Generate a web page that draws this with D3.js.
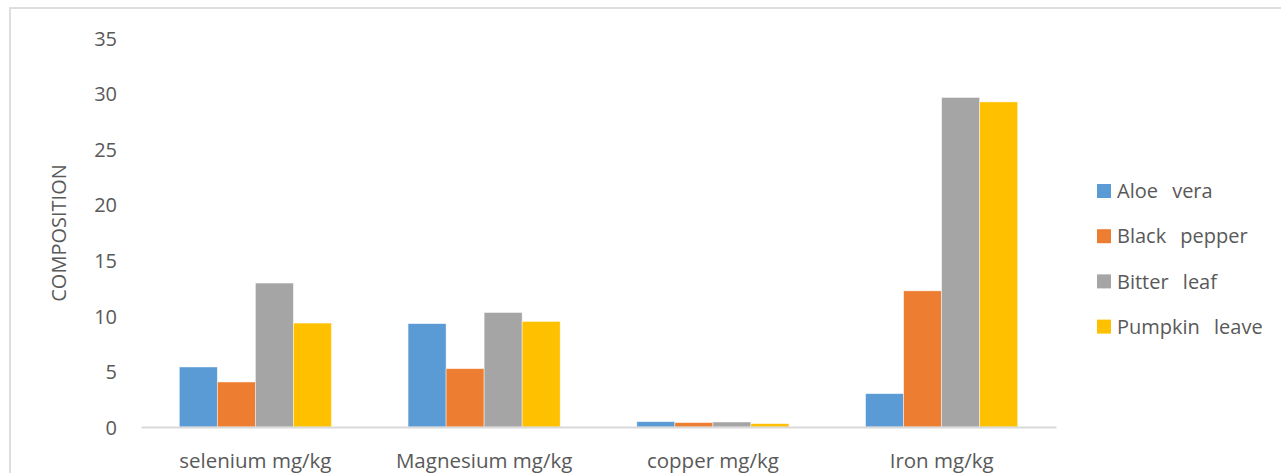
<!DOCTYPE html>
<html>
<head>
<meta charset="utf-8">
<script src="https://cdn.jsdelivr.net/npm/d3@7"></script>
<style>
  html, body { margin: 0; padding: 0; background: #fff; }
  svg { display: block; }
  text { font-family: "Open Sans", "Noto Sans", sans-serif; fill: #595959; }
</style>
</head>
<body>
<svg id="chart" width="1281" height="473"></svg>
<script>
// Mineral composition per sample
const categories = ["selenium mg/kg", "Magnesium mg/kg", "copper mg/kg", "Iron mg/kg"];
const seriesNames = ["Aloe vera", "Black pepper", "Bitter leaf", "Pumpkin leave"];
const aloeVera     = [5.4, 9.3, 0.48, 3.0];
const blackPepper  = [4.05, 5.25, 0.4, 12.25];
const bitterLeaf   = [12.95, 10.3, 0.45, 29.65];
const pumpkinLeave = [9.35, 9.5, 0.3, 29.25];
const yTicks = [0, 5, 10, 15, 20, 25, 30, 35];
const colors = ["#5b9bd5", "#ed7d31", "#a5a5a5", "#ffc000"];

const seriesValues = [aloeVera, blackPepper, bitterLeaf, pumpkinLeave];

const svg = d3.select("#chart");

// chart area frame
svg.append("rect")
  .attr("x", 10).attr("y", 8)
  .attr("width", 1300).attr("height", 500)
  .attr("fill", "none")
  .attr("stroke", "#dedede")
  .attr("stroke-width", 2);

const plot = { left: 141, right: 1056, top: 38, bottom: 427 };

const y = d3.scaleLinear().domain([0, 35]).range([plot.bottom, plot.top]);

const x0 = d3.scaleBand()
  .domain(categories)
  .range([plot.left, plot.right])
  .paddingInner(0.335)
  .paddingOuter(0.1675);

const x1 = d3.scaleBand()
  .domain(seriesNames)
  .range([0, x0.bandwidth()])
  .padding(0);

// y-axis tick labels
const yAxis = d3.axisLeft(y).tickValues(yTicks).tickSize(0).tickPadding(0);
const gy = svg.append("g")
  .attr("transform", `translate(${plot.left - 24},0)`)
  .call(yAxis);
gy.select(".domain").remove();
gy.selectAll("text")
  .style("font-size", "20px")
  .style("font-family", "'Open Sans', sans-serif")
  .attr("fill", "#595959")
  .attr("dy", "0.36em");

// bars
const groups = svg.append("g")
  .selectAll("g")
  .data(categories)
  .join("g")
  .attr("transform", d => `translate(${x0(d)},0)`);

groups.selectAll("rect")
  .data((d, i) => seriesNames.map((s, j) => ({ s, j, v: seriesValues[j][i] })))
  .join("rect")
  .attr("x", d => x1(d.s))
  .attr("width", x1.bandwidth())
  .attr("y", d => y(d.v))
  .attr("height", d => y(0) - y(d.v))
  .attr("fill", d => colors[d.j])
  .attr("stroke", "#ffffff")
  .attr("stroke-opacity", 0.6)
  .attr("stroke-width", 0.75);

// category axis
const xAxis = d3.axisBottom(x0).tickSize(0).tickPadding(0);
const gx = svg.append("g")
  .attr("transform", `translate(0,${plot.bottom})`)
  .call(xAxis);
gx.select(".domain")
  .attr("stroke", "#d9d9d9")
  .attr("stroke-width", 2);
gx.selectAll("text")
  .style("font-size", "20.5px")
  .style("font-family", "'Open Sans', sans-serif")
  .attr("fill", "#595959")
  .attr("y", 41)
  .attr("dy", 0);

// y-axis title
svg.append("text")
  .attr("transform", `translate(66,233) rotate(-90)`)
  .attr("text-anchor", "middle")
  .style("font-size", "20px")
  .text("COMPOSITION");

// legend
const legend = svg.append("g")
  .selectAll("g")
  .data(seriesNames)
  .join("g")
  .attr("transform", (d, i) => `translate(1097,${191 + i * 45.2})`);

legend.append("rect")
  .attr("x", 0).attr("y", -7)
  .attr("width", 14).attr("height", 14)
  .attr("fill", (d, i) => colors[i]);

legend.append("text")
  .attr("x", 20)
  .attr("dy", "0.36em")
  .style("font-size", "20px")
  .style("word-spacing", "9px")
  .text(d => d);
</script>
</body>
</html>
